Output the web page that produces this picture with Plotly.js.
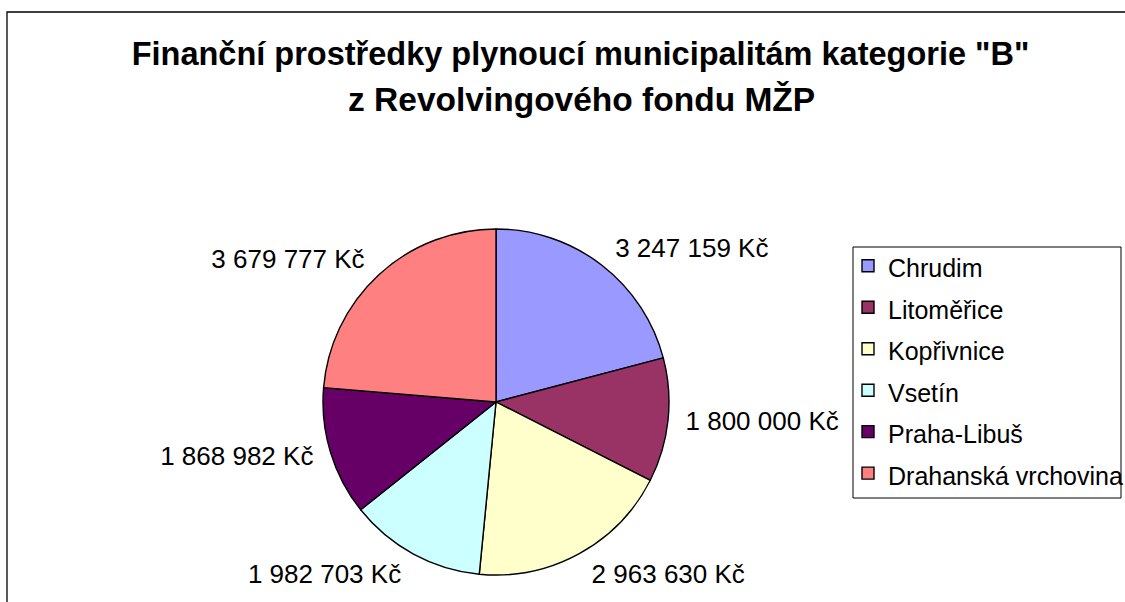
<!DOCTYPE html>
<html>
<head>
<meta charset="utf-8">
<script src="https://cdn.plot.ly/plotly-3.0.1.min.js"></script>
<style>
html,body{margin:0;padding:0;background:#fff;}
#chart{width:1125px;height:602px;overflow:hidden;}
</style>
</head>
<body>
<div id="chart"></div>
<script>
const categories = ["Chrudim", "Litoměřice", "Kopřivnice", "Vsetín", "Praha-Libuš", "Drahanská vrchovina"];
const values = [3247159, 1800000, 2963630, 1982703, 1868982, 3679777];
const colors = ["#9999FF", "#993366", "#FFFFCC", "#CCFFFF", "#660066", "#FF8080"];
const titleLine1 = 'Finanční prostředky plynoucí municipalitám kategorie "B"';
const titleLine2 = 'z Revolvingového fondu MŽP';

const FONT = "Liberation Sans, Arial, sans-serif";

const W = 1125, H = 602;
const cx = 496, cy = 402, r = 173, rText = 183;

function dom(rad) {
  return {x: [(cx - rad) / W, (cx + rad) / W], y: [(H - cy - rad) / H, (H - cy + rad) / H]};
}

const legendLabels = categories.map(c => '<span style="font-size:25px">' + c + '</span>');

const pieTrace = {
  type: "pie",
  labels: legendLabels,
  values: values,
  sort: false,
  direction: "clockwise",
  rotation: 0,
  marker: {colors: colors, line: {color: "#000", width: 1.4}},
  textinfo: "none",
  hoverinfo: "none",
  domain: dom(r)
};

const labelTrace = {
  type: "pie",
  labels: legendLabels,
  values: values,
  sort: false,
  direction: "clockwise",
  rotation: 0,
  showlegend: false,
  marker: {colors: values.map(() => "rgba(0,0,0,0)"), line: {width: 0}},
  textposition: "outside",
  texttemplate: "%{value:,.0f} Kč",
  textfont: {family: FONT, size: 26, color: "#000"},
  hoverinfo: "none",
  domain: dom(rText)
};

const layout = {
  width: W, height: H,
  margin: {l: 0, r: 0, t: 0, b: 0, autoexpand: false},
  paper_bgcolor: "#fff",
  separators: ", ",
  font: {family: FONT, color: "#000"},
  title: {
    text: "<b>" + titleLine1 + "</b>",
    font: {family: FONT, size: 32.5, color: "#000"},
    x: 580.5 / W, xref: "container", xanchor: "center",
    y: 1 - 54 / H, yref: "container", yanchor: "middle"
  },
  annotations: [{
    text: "<b>" + titleLine2 + "</b>",
    font: {family: FONT, size: 33.5, color: "#000"},
    xref: "paper", yref: "paper",
    x: 581.5 / W, y: 1 - 99 / H, xanchor: "center", yanchor: "middle",
    showarrow: false
  }],
  showlegend: true,
  legend: {
    x: 848 / W, y: 1 - 240 / H, xanchor: "left", yanchor: "top",
    borderwidth: 0, bgcolor: "rgba(0,0,0,0)",
    font: {family: FONT, size: 29.6, color: "#000"},
    traceorder: "normal"
  },
  shapes: [
    {
      type: "rect", xref: "paper", yref: "paper",
      x0: 7 / W, x1: 1.05, y0: -0.05, y1: 1 - 12 / H,
      line: {color: "#000", width: 1.3}, fillcolor: "rgba(0,0,0,0)", layer: "below"
    },
    {
      type: "rect", xref: "paper", yref: "paper",
      x0: 853 / W, x1: 1121 / W, y0: 1 - 498 / H, y1: 1 - 247 / H,
      line: {color: "#000", width: 1}, fillcolor: "rgba(0,0,0,0)", layer: "below"
    }
  ]
};

Plotly.newPlot("chart", [pieTrace, labelTrace], layout, {displayModeBar: false, staticPlot: true});
</script>
</body>
</html>
